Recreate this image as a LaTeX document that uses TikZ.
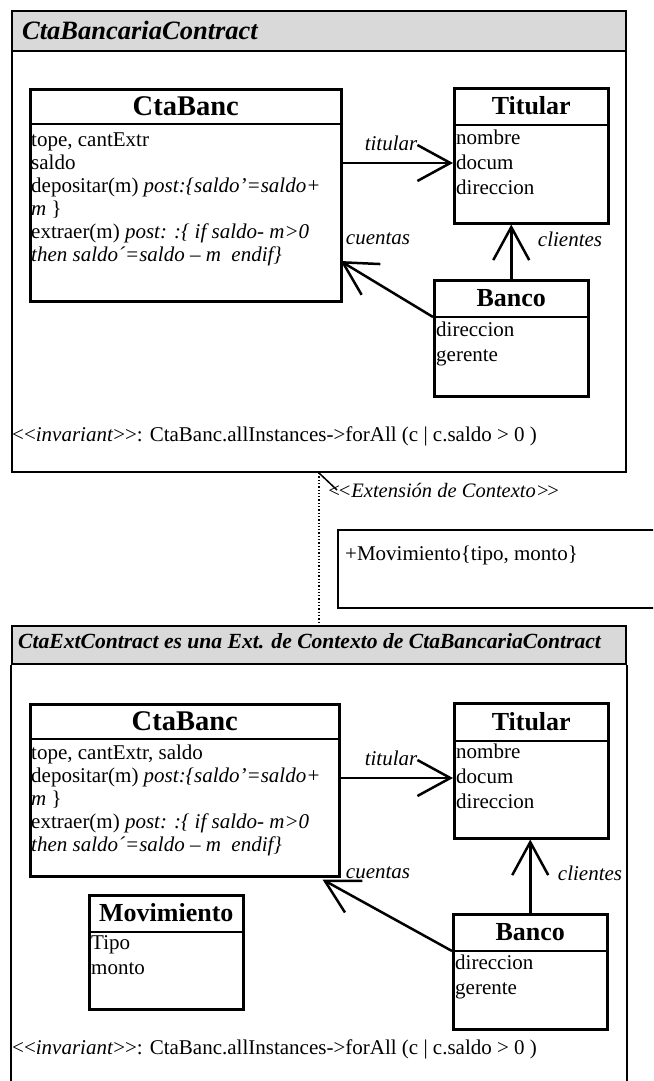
\documentclass[tikz,border=0pt]{standalone}
\usepackage{fontspec}
\setmainfont{Liberation Serif}[Ligatures=TeXOff]
\usetikzlibrary{arrows.meta,calc}
\newcommand{\umllines}[1]{\begin{tabular}[t]{@{}l@{}}#1\end{tabular}}
\newcommand{\umlbox}[8]{%
  \node[classbox, anchor=north west, minimum width={(#4-#2)*1pt}, minimum height={(#5-#3)*1pt}] (#1) at (#2,#3) {};
  \coordinate (#1-hl) at (#2,#6);
  \coordinate (#1-hr) at (#4,#6);
  \draw[sep] (#1-hl) -- (#1-hr);
  \coordinate (#1-hc) at (#1.north |- #1-hl);
  \node[cname, #8] (#1-name) at ($(#1.north)!0.5!(#1-hc)$) {#7};
}
\tikzset{
  frame/.style={draw, line width=2pt, inner sep=0pt},
  hdr/.style={draw, line width=2pt, fill=black!15, inner sep=0pt},
  classbox/.style={draw, line width=2.5pt, inner sep=0pt},
  sep/.style={line width=2pt},
  cname/.style={font=\fontsize{26}{28}\selectfont\bfseries, inner sep=0pt},
  bigname/.style={font=\fontsize{28.5}{30}\selectfont\bfseries},
  body/.style={font=\fontsize{21}{23}\selectfont, inner sep=0pt, anchor=base west},
  bodyw/.style={font=\fontsize{21}{25}\selectfont, inner sep=0pt, anchor=base west},
  lbl/.style={font=\fontsize{21}{23}\selectfont\itshape, inner sep=0pt},
  assoc/.style={line width=2.5pt, -{Straight Barb[length=33pt, width=36pt]}},
  ftitle/.style={font=\fontsize{26.5}{28}\selectfont\bfseries\itshape, inner sep=0pt, anchor=base west},
}
\begin{document}
\begin{tikzpicture}[x=1pt, y=-1pt]
\useasboundingbox (0,0) rectangle (653,1081);
\clip (0,0) rectangle (653,1081);
\fill[white] (0,0) rectangle (653,1081);

% ---------- first contract frame ----------
\node[frame, anchor=north west, minimum width=614pt, minimum height=461pt] (f1) at (11,10) {};
\node[hdr, anchor=north west, minimum width=614pt, minimum height=40pt] (f1h) at (11,10) {};
\node[ftitle] (f1t) at (22,40) {CtaBancariaContract};

\umlbox{cta1}{29}{88}{340}{300}{124}{CtaBanc}{bigname}
\node[body] (cta1-b) at (31,146) {\umllines{tope, cantExtr\\ saldo\\ depositar(m) \textit{post:\{saldo’=saldo+}\\ \textit{m }\}\\ extraer(m) \textit{post: :\{ if saldo- m>0}\\ \textit{then saldo´=saldo – m\ \ endif\}}}};

\umlbox{tit1}{453}{87}{607}{222}{125}{Titular}{}
\node[bodyw] (tit1-b) at (456,144) {\umllines{nombre\\ docum\\ direccion}};

\umlbox{ban1}{433}{279}{587}{395}{317}{Banco}{}
\node[bodyw] (ban1-b) at (436,336) {\umllines{direccion\\ gerente}};

\coordinate (t1s) at ($(cta1.north east)+(0,75)$);
\draw[assoc] (t1s) -- (tit1.west |- t1s);
\draw[assoc] (ban1.north) -- (ban1.north |- tit1.south);
\coordinate (c1e) at ($(cta1.north east)+(-2,173)$);
\draw[assoc] (ban1-hl) -- (c1e);

\node[lbl] (l1a) at (391,143) {titular};
\node[lbl] (l1b) at (378,239) {cuentas};
\node[lbl] (l1c) at (570,239) {clientes};

\node[body] (inv1) at (12,441) {<<\textit{invariant}>>: CtaBanc.allInstances->forAll (c | c.saldo > 0 )};

% ---------- extension link and note ----------
\node[hdr, anchor=north west, minimum width=614pt, minimum height=38pt] (f2h) at (11,625) {};
\draw[dotted, line width=1.3pt] (f1.south) -- (f2h.north);
\coordinate (stub) at (337,490);
\draw[line width=1.5pt] (f1.south) -- (stub);
\node[body, font=\fontsize{20.5}{23}\selectfont\itshape] (ext) at (327,497) {<\kern-3.5pt<Extensión de Contexto>\kern-3.5pt>};
\node[draw, line width=1.8pt, anchor=north west, minimum width=340pt, minimum height=78pt, inner sep=0pt] (note) at (337,529) {};
\node[body] (notet) at (345,560) {+Movimiento\{tipo, monto\}};

% ---------- second contract frame ----------
\node[ftitle, font=\fontsize{21.6}{24}\selectfont\bfseries\itshape] (f2t) at (18,648) {CtaExtContract es una Ext. de Contexto de CtaBancariaContract};
\coordinate (pgb) at (0,1100);
\draw[line width=2pt] (f2h.south west) -- (f2h.south west |- pgb);
\draw[line width=2pt] (f2h.south east) -- (f2h.south east |- pgb);

\umlbox{cta2}{29}{703}{338}{875}{739}{CtaBanc}{bigname}
\node[body] (cta2-b) at (31,759) {\umllines{tope, cantExtr, saldo\\ depositar(m) \textit{post:\{saldo’=saldo+}\\ \textit{m }\}\\ extraer(m) \textit{post: :\{ if saldo- m>0}\\ \textit{then saldo´=saldo – m\ \ endif\}}}};

\umlbox{tit2}{453}{702}{607}{837}{741}{Titular}{}
\node[bodyw] (tit2-b) at (456,758) {\umllines{nombre\\ docum\\ direccion}};

\umlbox{ban2}{452}{913}{606}{1028}{951}{Banco}{}
\node[bodyw] (ban2-b) at (455,969) {\umllines{direccion\\ gerente}};

\umlbox{mov}{88}{894}{242}{1008}{932}{Movimiento}{}
\node[bodyw] (mov-b) at (91,949) {\umllines{Tipo\\ monto}};

\coordinate (t2s) at ($(cta2.north east)+(0,75)$);
\draw[assoc] (t2s) -- (tit2.west |- t2s);
\draw[assoc] (ban2.north) -- (ban2.north |- tit2.south);
\coordinate (c2e) at ($(cta2.south east)+(-18,2)$);
\draw[assoc] (ban2-hl) -- (c2e);

\node[lbl] (l2a) at (391,758) {titular};
\node[lbl] (l2b) at (378,873) {cuentas};
\node[lbl] (l2c) at (590,873) {clientes};

\node[body] (inv2) at (12,1054) {<<\textit{invariant}>>: CtaBanc.allInstances->forAll (c | c.saldo > 0 )};
\end{tikzpicture}
\end{document}
